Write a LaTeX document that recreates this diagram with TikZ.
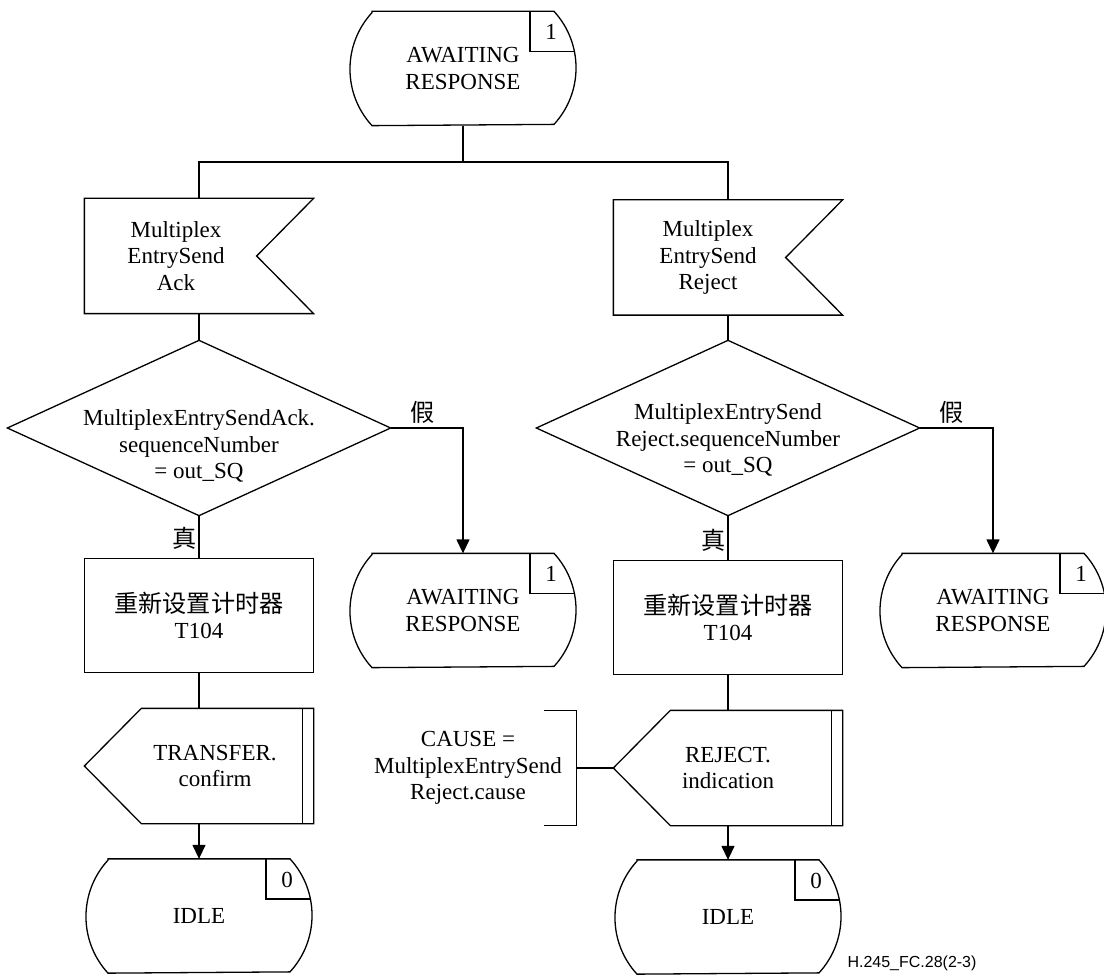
\documentclass[tikz,border=0pt]{standalone}
\usepackage{fontspec}
\setmainfont{Liberation Serif}
\newfontfamily\cjk[Scale=1.05]{Noto Sans CJK SC}
\newfontfamily\figfont{Liberation Sans}
\usetikzlibrary{arrows.meta}

\begin{document}
\begin{tikzpicture}[
  x=1pt, y=-1pt,
  line width=1.3pt,
  every node/.style = {font=\fontsize{23}{26.5}\selectfont, inner sep=0pt, align=center},
  statebox/.style = {minimum width=226pt, minimum height=113pt},
  inbox/.style = {minimum width=228pt, minimum height=114pt},
  outbox/.style = {minimum width=228pt, minimum height=114pt},
  taskbox/.style = {minimum width=228pt, minimum height=113pt},
  decbox/.style = {minimum width=382pt, minimum height=174pt},
  note/.style = {minimum width=216pt, minimum height=114pt},
  arr/.style = {-{Triangle[length=14pt,width=13pt]}}
]
\useasboundingbox (0,0) rectangle (1104,976);

% states
\node[statebox] (s0) at (463,68.5) {AWAITING\\RESPONSE};
\node[statebox] (s1) at (463,610.5) {AWAITING\\RESPONSE};
\node[statebox] (s3) at (993,610.5) {AWAITING\\RESPONSE};
\node[statebox] (s2) at (199,916) {IDLE};
\node[statebox] (s4) at (728,917) {IDLE};

% inputs
\node[inbox] (in1) at (199,256) {};
\node (in1t) at ([xshift=-23pt]in1.center) {Multiplex\\EntrySend\\Ack};
\node[inbox] (in2) at (728,257.5) {};
\node (in2t) at ([xshift=-20pt]in2.center) {Multiplex\\EntrySend\\Reject};

% decisions
\node[decbox] (d1) at (199,428) {};
\node (d1t) at ([yshift=-18pt]d1.center) {MultiplexEntrySendAck.\\sequenceNumber\\= out\_SQ};
\node[decbox] (d2) at (728,428) {};
\node (d2t) at ([yshift=-12pt]d2.center) {MultiplexEntrySend\\Reject.sequenceNumber\\= out\_SQ};

% tasks
\node[taskbox] (t1) at (199,615.5) {{\cjk 重新设置计时器}\\T104};
\node[taskbox] (t2) at (728,617.5) {{\cjk 重新设置计时器}\\T104};

% outputs
\node[outbox] (o1) at (199,766) {};
\node (o1t) at ([xshift=16pt]o1.center) {TRANSFER.\\confirm};
\node[outbox] (o2) at (728,768) {REJECT.\\indication};

% comment
\node[note] (cm) at (468,768) {CAUSE =\\MultiplexEntrySend\\Reject.cause};

% branch labels
\node (f1) at (423,412) {\cjk 假};
\node (f2) at (952,412) {\cjk 假};
\node (tr1) at (185,538) {\cjk 真};
\node (tr2) at (714,540) {\cjk 真};
\node[font=\figfont\fontsize{16}{19}\selectfont] (fig) at (912,963) {H.245\_FC.28(2-3)};

% outlines
\foreach \n/\k in {s0/1, s1/1, s3/1, s2/0, s4/0} {
  \draw ([xshift=-91pt]\n.north) -- ([xshift=91pt]\n.north)
    arc[start angle=42.6, end angle=-42.6, radius=83.5pt]
    -- ([xshift=-91pt]\n.south)
    arc[start angle=222.6, end angle=137.4, radius=83.5pt] -- cycle;
  \draw ([xshift=67pt]\n.north) |- ([xshift=111pt,yshift=-40pt]\n.north);
  \node (\n-k) at ([xshift=88pt,yshift=-21pt]\n.north) {\k};
}
\foreach \n in {in1, in2}
  \draw (\n.north west) -- (\n.north east) -- ([xshift=-57pt]\n.east)
    -- (\n.south east) -- (\n.south west) -- cycle;
\foreach \n in {t1, t2}
  \draw (\n.north west) -- (\n.north east) -- (\n.south east)
    -- (\n.south west) -- cycle;
\foreach \n in {o1, o2} {
  \draw (\n.west) -- ([xshift=57pt]\n.north west) -- (\n.north east)
    -- (\n.south east) -- ([xshift=57pt]\n.south west) -- cycle;
  \draw ([xshift=-11pt]\n.north east) -- ([xshift=-11pt]\n.south east);
}
\foreach \n in {d1, d2}
  \draw (\n.north) -- (\n.east) -- (\n.south) -- (\n.west) -- cycle;
\draw ([xshift=-33pt]cm.north east) -- (cm.north east) -- (cm.south east)
  -- ([xshift=-33pt]cm.south east);

% connectors
\coordinate (bus) at (463,162);
\draw (s0.south) -- (bus);
\draw (in1.north) |- (bus) -| (in2.north);
\draw (in1.south) -- (d1.north);
\draw (d1.south) -- (t1.north);
\draw (t1.south) -- (o1.north);
\draw[arr] (o1.south) -- (s2.north);
\draw[arr] (d1.east) -| (s1.north);
\draw (in2.south) -- (d2.north);
\draw (d2.south) -- (t2.north);
\draw (t2.south) -- (o2.north);
\draw[arr] (o2.south) -- (s4.north);
\draw[arr] (d2.east) -| (s3.north);
\draw (o2.west) -- (cm.east);
\end{tikzpicture}
\end{document}
